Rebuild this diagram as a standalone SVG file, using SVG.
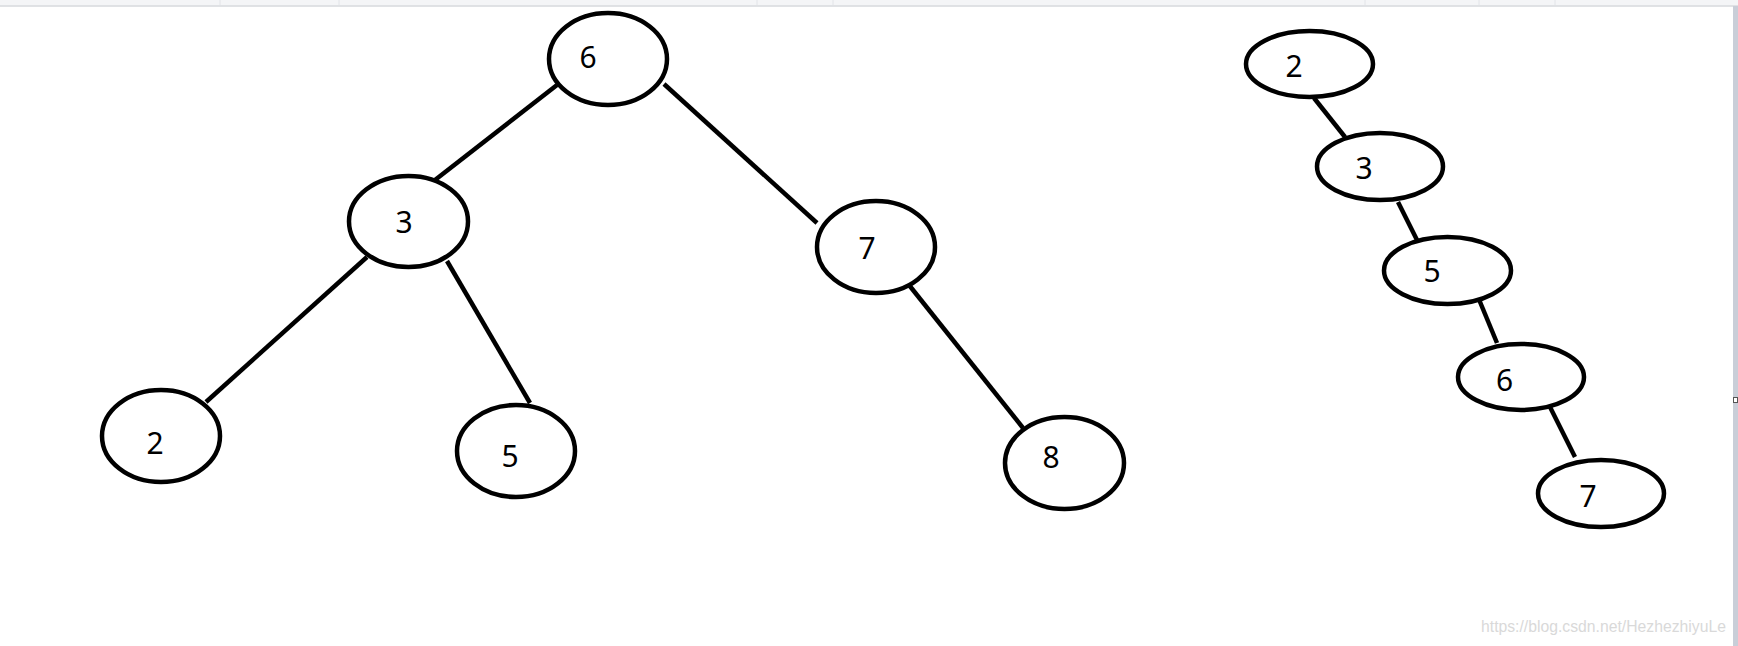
<svg xmlns="http://www.w3.org/2000/svg" width="1738" height="646" viewBox="0 0 1738 646">
<style>
.n{fill:#fff;stroke:#000;stroke-width:4.5}
.t{font-family:"Noto Sans","Open Sans",sans-serif;font-size:30px;fill:#000;text-anchor:middle}
.e{stroke:#000;stroke-width:4.5;fill:none}
.tick{stroke:#e2e4e8;stroke-width:1}
</style>
<rect x="0" y="0" width="1738" height="646" fill="#fff"/>
<g id="topbar">
<rect x="0" y="0" width="1738" height="5.5" fill="#f4f5f7"/>
<line x1="0" y1="6" x2="1738" y2="6" stroke="#d6d8dc" stroke-width="1.5"/>
<line class="tick" x1="220" y1="0" x2="220" y2="5"/>
<line class="tick" x1="339" y1="0" x2="339" y2="5"/>
<line class="tick" x1="757" y1="0" x2="757" y2="5"/>
<line class="tick" x1="833" y1="0" x2="833" y2="5"/>
<line class="tick" x1="1365" y1="0" x2="1365" y2="5"/>
<line class="tick" x1="1479" y1="0" x2="1479" y2="5"/>
<line class="tick" x1="1555" y1="0" x2="1555" y2="5"/>
</g>
<g id="rightbar">
<rect x="1733" y="6" width="5" height="640" fill="#c9ced8"/>
<rect x="1733.5" y="397.5" width="4" height="5" fill="#fff" stroke="#555" stroke-width="1"/>
</g>
<g id="connectors">
<line class="e" x1="557" y1="85" x2="435" y2="180"/>
<line class="e" x1="664" y1="84" x2="817" y2="223"/>
<line class="e" x1="367" y1="257" x2="206" y2="402"/>
<line class="e" x1="447" y1="261" x2="530" y2="403"/>
<line class="e" x1="909" y1="285" x2="1023" y2="428"/>
<line class="e" x1="1314" y1="98" x2="1345" y2="137"/>
<line class="e" x1="1398" y1="202" x2="1417" y2="240"/>
<line class="e" x1="1478" y1="297" x2="1497" y2="343"/>
<line class="e" x1="1550" y1="407" x2="1575" y2="457"/>
</g>
<g id="a6"><ellipse class="n" cx="608" cy="59" rx="59" ry="46"/><text class="t" x="588" y="68">6</text></g>
<g id="a3"><ellipse class="n" cx="408.5" cy="221.5" rx="59.5" ry="45.5"/><text class="t" x="404" y="233">3</text></g>
<g id="a7"><ellipse class="n" cx="876" cy="247" rx="59" ry="46"/><text class="t" x="867" y="259">7</text></g>
<g id="a2"><ellipse class="n" cx="161" cy="436" rx="59" ry="46"/><text class="t" x="155" y="454">2</text></g>
<g id="a5"><ellipse class="n" cx="516" cy="451" rx="59" ry="46"/><text class="t" x="510" y="467">5</text></g>
<g id="a8"><ellipse class="n" cx="1064.5" cy="463" rx="59.5" ry="46"/><text class="t" x="1051" y="468">8</text></g>
<g id="b2"><ellipse class="n" cx="1309.5" cy="64" rx="63.5" ry="33"/><text class="t" x="1294" y="77">2</text></g>
<g id="b3"><ellipse class="n" cx="1380" cy="166.5" rx="63" ry="33.5"/><text class="t" x="1364" y="179">3</text></g>
<g id="b5"><ellipse class="n" cx="1447.5" cy="270.5" rx="63.5" ry="33.5"/><text class="t" x="1432" y="282">5</text></g>
<g id="b6"><ellipse class="n" cx="1521" cy="377" rx="63" ry="33"/><text class="t" x="1504.5" y="391">6</text></g>
<g id="b7"><ellipse class="n" cx="1601" cy="493.5" rx="63" ry="33.5"/><text class="t" x="1588" y="507">7</text></g>
<text x="1481" y="632" font-family="Liberation Sans, Arial, sans-serif" font-size="17" fill="#d9d9d9" textLength="245" lengthAdjust="spacingAndGlyphs">https://blog.csdn.net/HezhezhiyuLe</text>
</svg>
